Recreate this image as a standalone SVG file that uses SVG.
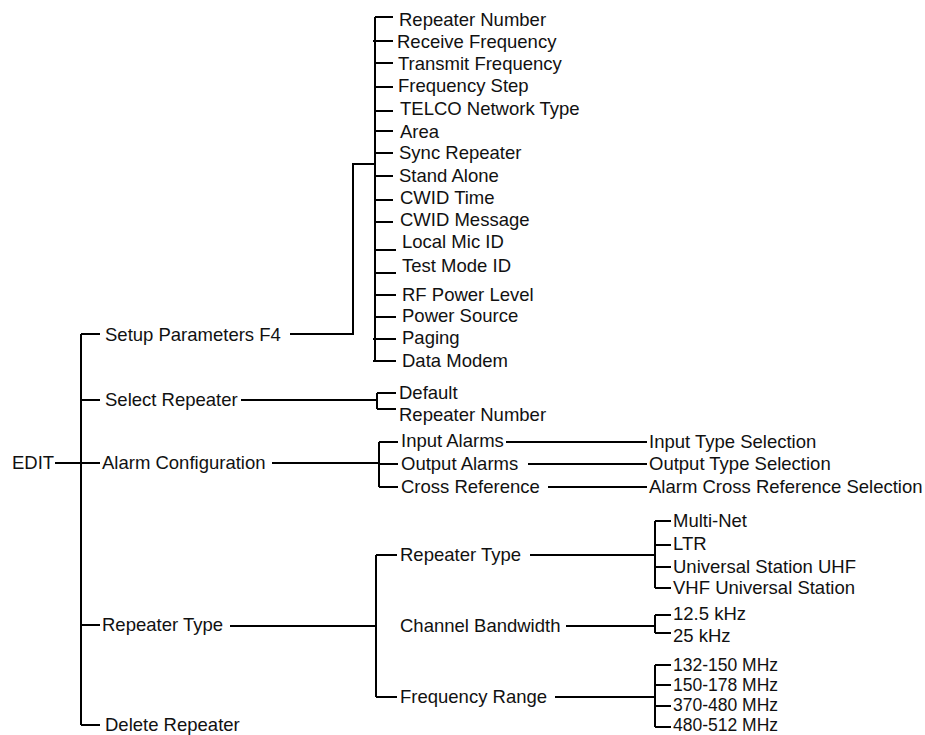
<svg xmlns="http://www.w3.org/2000/svg" width="925" height="735" viewBox="0 0 925 735">
<style>
text{font-family:"Liberation Sans",Arial,sans-serif;font-size:18.5px;fill:#111}
.s{font-size:17.5px}
.c{stroke:#000;stroke-width:2;fill:none}
</style>
<rect width="925" height="735" fill="#fff"/>
<g id="connectors" class="c">
<path d="M55 463H100"/>
<path d="M81 334V725"/>
<path d="M81 334H100M81 400H100M81 625H100M81 725H100"/>
<path d="M290 334H353V164H375"/>
<path d="M375 17V361"/>
<path d="M375 17H393M373 41H393M375 63H393M375 87H393M375 111H393M375 131H393M375 153H393M375 176H393M375 200H393M375 222H393M375 250H396M375 273H396M375 295H396M375 317H396M373 339H396M373 361H396"/>
<path d="M241 400H377M377 393V409M377 393H396M377 409H396"/>
<path d="M272 463H379M379 442V487M379 442H398M379 487H398M379 464H398"/>
<path d="M506 442H647M528 464H647M548 487H647"/>
<path d="M230 626H376M376 555V697M376 555H397M376 697H397"/>
<path d="M530 555H655M655 521V588M655 521H671M655 545H671M655 567H671M655 588H671"/>
<path d="M566 626H655M655 615V633M655 615H671M655 633H671"/>
<path d="M555 697H655M655 665V727M655 665H671M655 685H671M655 706H671M655 727H671"/>
</g>
<g id="edit"><text x="12" y="469">EDIT</text></g>
<g id="setup"><text x="105" y="341">Setup Parameters F4</text></g>
<g id="select"><text x="105" y="406">Select Repeater</text></g>
<g id="alarm"><text x="102" y="469">Alarm Configuration</text></g>
<g id="reptype"><text x="102" y="631">Repeater Type</text></g>
<g id="delete"><text x="105" y="731">Delete Repeater</text></g>
<g id="setup-items">
<text x="399" y="26">Repeater Number</text>
<text x="397" y="48">Receive Frequency</text>
<text x="398" y="70">Transmit Frequency</text>
<text x="398" y="92">Frequency Step</text>
<text x="400" y="115">TELCO Network Type</text>
<text x="400" y="138">Area</text>
<text x="399" y="159">Sync Repeater</text>
<text x="399" y="182">Stand Alone</text>
<text x="400" y="204">CWID Time</text>
<text x="400" y="226">CWID Message</text>
<text x="402" y="248">Local Mic ID</text>
<text x="402" y="272">Test Mode ID</text>
<text x="402" y="301">RF Power Level</text>
<text x="402" y="322">Power Source</text>
<text x="402" y="344">Paging</text>
<text x="402" y="367">Data Modem</text>
</g>
<g id="select-items">
<text x="399" y="399">Default</text>
<text x="399" y="421">Repeater Number</text>
</g>
<g id="alarm-items">
<text x="401" y="447">Input Alarms</text>
<text x="401" y="470">Output Alarms</text>
<text x="401" y="493">Cross Reference</text>
</g>
<g id="alarm-selections">
<text x="649" y="448">Input Type Selection</text>
<text x="649" y="470">Output Type Selection</text>
<text x="649" y="493">Alarm Cross Reference Selection</text>
</g>
<g id="reptype-items">
<text x="400" y="561">Repeater Type</text>
<text x="400" y="632">Channel Bandwidth</text>
<text x="400" y="703">Frequency Range</text>
</g>
<g id="type-items">
<text x="673" y="527">Multi-Net</text>
<text x="673" y="550">LTR</text>
<text x="673" y="573">Universal Station UHF</text>
<text x="673" y="594">VHF Universal Station</text>
</g>
<g id="bandwidth-items">
<text x="673" y="620">12.5 kHz</text>
<text x="673" y="642">25 kHz</text>
</g>
<g id="range-items">
<text class="s" x="673" y="671">132-150 MHz</text>
<text class="s" x="673" y="691">150-178 MHz</text>
<text class="s" x="673" y="711">370-480 MHz</text>
<text class="s" x="673" y="731">480-512 MHz</text>
</g>
</svg>
